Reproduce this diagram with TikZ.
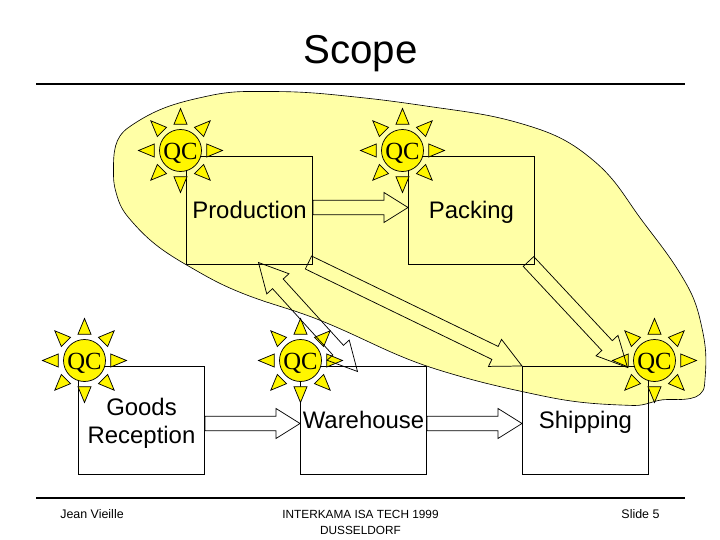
\documentclass[tikz,border=0pt]{standalone}
\usepackage{fontspec}
\setmainfont{Liberation Sans}
\newfontfamily\qcfont{Liberation Serif}
\usetikzlibrary{calc}
\definecolor{scopeyellow}{HTML}{FFFFA6}
\definecolor{sunyellow}{HTML}{FFF600}
\tikzset{
  boxnode/.style={draw,line width=0.47pt,minimum width=2.1cm,minimum height=1.8cm,inner sep=0pt,align=center,
    font=\fontsize{11.34}{13.2}\selectfont},
  oneline/.style={text height=9.5pt,text depth=1.94pt},
  qc/.style={circle,draw,fill=sunyellow,line width=0.35pt,minimum size=0.7cm,inner sep=0pt,
    text height=8.5pt,text depth=0pt,font=\qcfont\fontsize{11.7}{13}\selectfont},
  ray/.style={draw,fill=sunyellow,line width=0.35pt,line join=miter},
  flow/.style={draw,line width=0.35pt,line join=miter},
  rulebar/.style={line width=0.95pt},
  foot/.style={font=\fontsize{5.9}{7.56}\selectfont,align=center,inner sep=0pt},
  qcsun/.pic={
    \foreach \a in {0,45,...,315}
      \draw[ray] (\a:0.7) -- (\a+14:0.45) -- (\a-14:0.45) -- cycle;
    \node[qc] {QC};
  }
}
\newcommand{\flowarrow}[3][0.4cm]{%
  \coordinate (hd) at ($(#3)!#1!(#2)$);
  \draw[flow] ($(#2)!0.12cm!90:(#3)$) -- ($(hd)!0.12cm!-90:(#2)$) -- ($(hd)!0.25cm!-90:(#2)$) -- (#3)
    -- ($(hd)!0.25cm!90:(#2)$) -- ($(hd)!0.12cm!90:(#2)$) -- ($(#2)!0.12cm!-90:(#3)$) -- cycle;
}
\newcommand{\flowarrowboth}[3][0.4cm]{%
  \coordinate (hd) at ($(#3)!#1!(#2)$);
  \coordinate (hdb) at ($(#2)!#1!(#3)$);
  \draw[flow] (#2) -- ($(hdb)!0.25cm!90:(#3)$) -- ($(hdb)!0.12cm!90:(#3)$) -- ($(hd)!0.12cm!-90:(#2)$)
    -- ($(hd)!0.25cm!-90:(#2)$) -- (#3) -- ($(hd)!0.25cm!90:(#2)$) -- ($(hd)!0.12cm!90:(#2)$)
    -- ($(hdb)!0.12cm!-90:(#3)$) -- ($(hdb)!0.25cm!-90:(#3)$) -- cycle;
}
\begin{document}
\begin{tikzpicture}
    \useasboundingbox (-0.0083,0.0083) rectangle (11.9917,9.0083);
    \draw[fill=scopeyellow,line width=0.3pt] (1.883,6.167) to [out=90,in=215] (2.133,6.883)
    to [out=35,in=192] (3.5,7.417)
    to [out=12,in=180] (4.5,7.483)
    to [out=0,in=174] (6,7.383)
    to [out=-6,in=172] (7.383,7.2)
    to [out=-8,in=163] (8.783,6.917)
    to [out=-17,in=140] (9.883,6.333)
    to [out=-40,in=127] (10.717,5.3)
    to [out=-53,in=120] (11.417,4.3)
    to [out=-60,in=102] (11.7,3.5)
    to [out=-78,in=85] (11.733,2.583)
    to [out=-95,in=10] (11.5,2.367)
    to [out=190,in=0] (11.117,2.35)
    to [out=180,in=-2] (10.55,2.25)
    to [out=178,in=-12] (9,2.417)
    to [out=168,in=-17] (7.333,2.833)
    to [out=163,in=-22] (5.333,3.667)
    to [out=158,in=-22] (4,4.133)
    to [out=158,in=-30] (3.117,4.583)
    to [out=150,in=-50] (2.133,5.383)
    to [out=130,in=-75] (1.917,5.833)
    to [out=105,in=-90] (1.883,6.167);
    \node[font=\fontsize{19.1}{22}\selectfont] (title) at (6,8.11) {Scope};
    \draw[rulebar] (0.6,7.6) -- (11.4,7.6);
    \draw[rulebar] (0.6,0.7) -- (11.4,0.7);
    \node[boxnode,oneline] (prod) at (4.15,5.5) {Production};
    \node[boxnode,oneline] (pack) at (7.85,5.5) {Packing};
    \node[boxnode] (goods) at (2.35,2) {\rule{0pt}{11pt}Goods\\Reception};
    \node[boxnode,oneline] (ware) at (6.05,2) {Warehouse};
    \node[boxnode,oneline] (ship) at (9.75,2) {Shipping};
    \coordinate (prodout) at ($(prod.east)+(0,0.05)$);
    \coordinate (packin) at ($(pack.west)+(0,0.05)$);
    \coordinate (goodsout) at ($(goods.east)+(0,-0.05)$);
    \coordinate (warein) at ($(ware.west)+(0,-0.05)$);
    \coordinate (wareout) at ($(ware.east)+(0,-0.05)$);
    \coordinate (shipin) at ($(ship.west)+(0,-0.05)$);
    \coordinate (prodtail) at (5.133,4.633);
    \coordinate (packtail) at (8.8,4.65);
    \coordinate (shiptip) at (10.45,2.883);
    \coordinate (prodend) at (4.3,4.633);
    \coordinate (wareend) at (5.95,2.817);
    \pic at (3,6.5) {qcsun};
    \pic at (6.7,6.5) {qcsun};
    \pic at (1.4,3) {qcsun};
    \pic at (5,3) {qcsun};
    \pic at (10.9,3) {qcsun};
    \flowarrow{prodout}{packin}
    \flowarrow{goodsout}{warein}
    \flowarrow{wareout}{shipin}
    \flowarrow[0.5cm]{prodtail}{ship.north west}
    \flowarrow[0.5cm]{packtail}{shiptip}
    \flowarrowboth[0.48cm]{prodend}{wareend}
    \node[foot] (author) at (1.525,0.433) {Jean Vieille};
    \node[foot,font=\fontsize{5.6}{7.56}\selectfont] (event) at (6,0.3) {INTERKAMA ISA TECH 1999\\DUSSELDORF};
    \node[foot] (slide) at (10.667,0.433) {Slide 5};
\end{tikzpicture}
\end{document}
